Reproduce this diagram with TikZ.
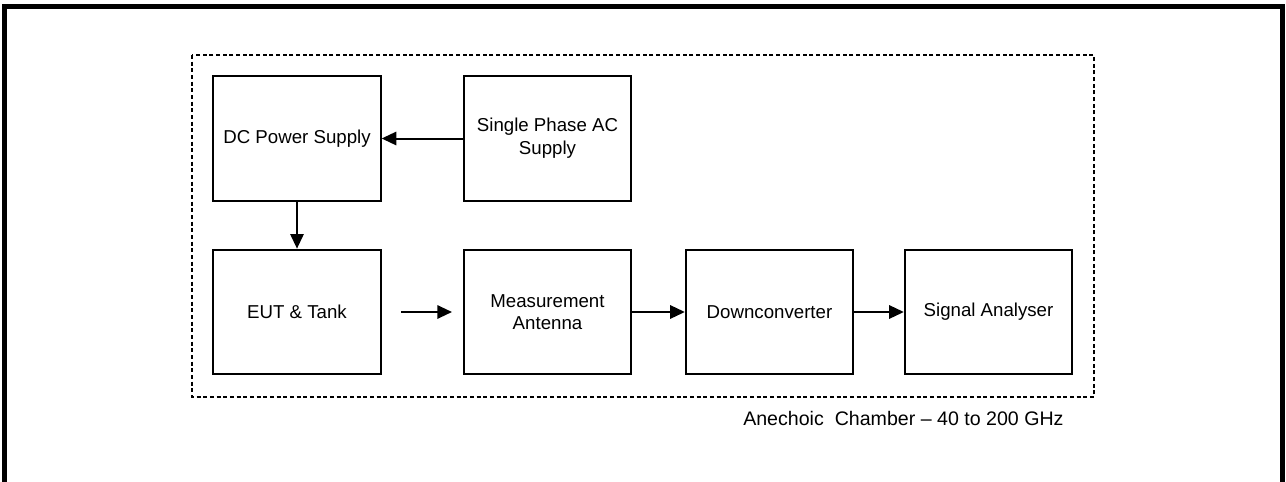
\documentclass[tikz,border=0pt]{standalone}
\usepackage{fontspec}
\setmainfont{Liberation Sans}
\usetikzlibrary{arrows.meta}
\begin{document}
\begin{tikzpicture}[x=0.75pt,y=-0.75pt,
  blk/.style={draw=black, line width=1.5pt, minimum width=125.5pt, minimum height=93.5pt, align=center, inner sep=2pt, font=\fontsize{14}{17}\selectfont},
  conn/.style={line width=1.5pt, -{Triangle[length=11pt,width=10pt]}},
  chamber/.style={line width=1.5pt, dash pattern=on 3pt off 2pt},
  frame/.style={line width=3.75pt}]
\useasboundingbox (0,0) rectangle (1286,482);
\begin{scope}
\clip (0,0) rectangle (1286,482);
\draw[frame] (4.5,490) -- (4.5,6.5) -- (1282,6.5) -- (1282,490);
\end{scope}
\draw[chamber] (192,55) rectangle (1094,397);
\node[blk] (dc) at (297,138.5) {DC Power Supply};
\node[blk] (ac) at (547.5,138.5) {Single Phase AC\\Supply};
\node[blk] (eut) at (297,312) {EUT \& Tank};
\node[blk] (ma) at (547.5,312) {Measurement\\Antenna};
\node[blk] (dn) at (769.5,312) {Downconverter};
\node[blk] (sa) at (988.5,312) {Signal Analyser};
\coordinate (rs) at (401,312);
\coordinate (re) at (452,312);
\draw[conn] (ac.west) -- (dc.east);
\draw[conn] (dc.south) -- (eut.north);
\draw[conn] (rs) -- (re);
\draw[conn] (ma.east) -- (dn.west);
\draw[conn] (dn.east) -- (sa.west);
\node[anchor=west, inner sep=0pt, font=\fontsize{14.7}{17}\selectfont] (lbl) at (743,418) {Anechoic\ \ Chamber -- 40 to 200 GHz};
\end{tikzpicture}
\end{document}
